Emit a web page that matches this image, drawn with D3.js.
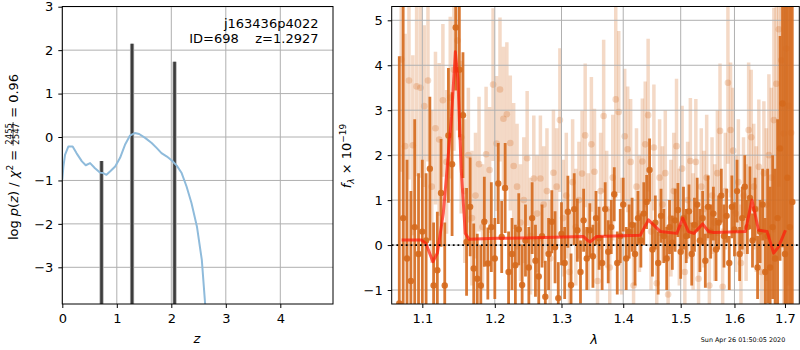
<!DOCTYPE html>
<html><head><meta charset="utf-8">
<script src="https://cdn.jsdelivr.net/npm/d3@7"></script>
<style>body{margin:0;background:#fff} svg{display:block} text{font-family:"DejaVu Sans",sans-serif;fill:#000}</style>
</head><body><svg id="c" width="800" height="350"></svg>
<script>
// ---------------- DATA ----------------
// left panel: p(z)
const pzZ = [0.00,0.02,0.05,0.11,0.19,0.26,0.36,0.43,0.51,0.60,0.69,0.75,0.81,0.88,0.97,1.06,1.15,1.24,1.33,1.41,1.52,1.64,1.73,1.82,1.92,2.01,2.10,2.19,2.28,2.37,2.47,2.56,2.62,2.66];
const pzLogP = [-0.98,-0.68,-0.41,-0.22,-0.22,-0.37,-0.56,-0.65,-0.60,-0.72,-0.82,-0.83,-0.87,-0.79,-0.68,-0.48,-0.18,0.03,0.09,0.07,-0.02,-0.14,-0.25,-0.37,-0.45,-0.54,-0.66,-0.83,-1.14,-1.52,-2.06,-2.83,-3.83,-4.40];
const peakZ = [0.72, 1.28, 2.06];
const peakTop = [-0.55, 2.15, 1.73];
const zTicks = [0,1,2,3,4];
const pTicks = [-3,-2,-1,0,1,2,3];
const objName = "j163436p4022";
const objInfo = "ID=698\u00a0\u00a0\u00a0\u00a0z=1.2927";

// right panel: spectrum (wavelength in micron, flux x 1e-19)
const darkWave = [1.070,1.075,1.080,1.085,1.090,1.095,1.100,1.105,1.110,1.115,
 1.120,1.125,1.130,1.135,1.140,1.145,1.150,1.155,1.160,1.165,
 1.170,1.175,1.180,1.185,1.190,1.195,1.200,1.205,1.210,1.215,
 1.220,1.225,1.230,1.235,1.240,1.245,1.250,1.255,1.260,1.265,
 1.270,1.275,1.280,1.285,1.290,1.295,1.300,1.305,1.310,1.315,
 1.320,1.325,1.330,1.335,1.340,1.345,1.350,1.355,1.360,1.365,
 1.370,1.375,1.380,1.385,1.390,1.395,1.400,1.405,1.410,1.415,
 1.420,1.425,1.430,1.435,1.440,1.445,1.450,1.455,1.460,1.465,
 1.470,1.475,1.480,1.485,1.490,1.495,1.500,1.505,1.510,1.515,
 1.520,1.525,1.530,1.535,1.540,1.545,1.550,1.555,1.560,1.565,
 1.570,1.575,1.580,1.585,1.590,1.595,1.600,1.605,1.610,1.615,
 1.620,1.625,1.630,1.635,1.640,1.645,1.650,1.655,1.660,1.665,
 1.670,1.675,1.680,1.685,1.690,1.695,1.700,1.705,1.710,1.715];
const darkFlux = [-1.30,0.60,-0.30,-0.80,0.40,-0.20,0.30,0.10,1.70,-0.90,
 -0.56,1.16,-0.90,2.44,1.80,4.84,3.90,2.89,0.07,0.85,
 -0.52,-0.75,-0.90,0.52,-0.41,0.40,-0.30,1.37,0.18,1.27,
 -0.60,-0.20,-0.45,0.35,-0.89,0.10,-0.50,0.60,-0.35,-0.70,
 0.20,-1.15,-0.20,0.52,-0.05,-1.18,0.25,-0.40,0.74,-0.89,
 0.80,0.33,-0.60,0.55,-0.30,0.33,-0.25,0.60,0.15,-0.40,
 0.80,-0.15,0.40,1.13,-0.40,0.20,0.90,-0.30,0.30,0.45,
 -0.20,0.60,0.10,0.70,0.96,1.67,-0.10,0.50,-0.40,0.65,
 0.20,-0.30,0.40,0.05,0.55,0.78,-0.15,0.60,0.20,0.75,
 -0.20,0.45,0.90,0.10,0.60,-0.35,0.85,0.30,0.70,-0.10,
 0.50,1.10,0.20,0.65,-0.40,0.85,0.35,1.20,-0.20,0.60,
 1.30,0.40,1.05,0.10,0.80,-0.50,0.30,0.90,-0.60,0.20,
 -0.50,0.40,-0.30,0.60,2.15,3.15,-0.20,1.50,0.40,0.96];
const darkErr = [5.5,5.0,2.2,2.0,2.4,1.8,1.6,1.5,1.6,1.4,
 1.3,1.2,1.4,1.5,1.6,1.4,1.5,1.4,1.2,1.1,
 1.0,1.0,0.9,1.0,0.8,1.0,0.9,0.9,0.8,1.0,
 0.9,0.8,0.9,0.8,0.9,0.8,0.9,0.8,0.8,0.9,
 0.7,0.8,0.8,0.7,0.8,0.8,0.7,0.8,0.8,0.7,
 0.8,0.7,0.7,0.7,0.7,0.6,0.7,0.6,0.7,0.6,
 0.6,0.7,0.6,0.6,0.7,0.6,0.6,0.7,0.6,0.6,
 0.7,0.6,0.6,0.7,0.6,0.7,0.6,0.6,0.7,0.6,
 0.6,0.7,0.6,0.6,0.7,0.6,0.6,0.7,0.6,0.6,
 0.7,0.6,0.6,0.7,0.6,0.6,0.7,0.6,0.6,0.7,
 0.6,0.6,0.7,0.6,0.6,0.7,0.6,0.7,0.6,0.7,
 0.7,0.6,0.7,0.6,0.7,0.7,0.7,0.8,1.2,1.5,
 1.8,1.6,2.0,2.2,2.5,3.2,6.0,6.0,6.5,6.5];
const lightWave = [1.0725,1.0775,1.0825,1.0875,1.0925,1.0975,1.1025,1.1075,1.1125,1.1175,
 1.1225,1.1275,1.1325,1.1375,1.1425,1.1475,1.1525,1.1575,1.1625,1.1675,
 1.1725,1.1775,1.1825,1.1875,1.1925,1.1975,1.2025,1.2075,1.2125,1.2175,
 1.2225,1.2275,1.2325,1.2375,1.2425,1.2475,1.2525,1.2575,1.2625,1.2675,
 1.2725,1.2775,1.2825,1.2875,1.2925,1.2975,1.3025,1.3075,1.3125,1.3175,
 1.3225,1.3275,1.3325,1.3375,1.3425,1.3475,1.3525,1.3575,1.3625,1.3675,
 1.3725,1.3775,1.3825,1.3875,1.3925,1.3975,1.4025,1.4075,1.4125,1.4175,
 1.4225,1.4275,1.4325,1.4375,1.4425,1.4475,1.4525,1.4575,1.4625,1.4675,
 1.4725,1.4775,1.4825,1.4875,1.4925,1.4975,1.5025,1.5075,1.5125,1.5175,
 1.5225,1.5275,1.5325,1.5375,1.5425,1.5475,1.5525,1.5575,1.5625,1.5675,
 1.5725,1.5775,1.5825,1.5875,1.5925,1.5975,1.6025,1.6075,1.6125,1.6175,
 1.6225,1.6275,1.6325,1.6375,1.6425,1.6475,1.6525,1.6575,1.6625,1.6675,
 1.6725,1.6775,1.6825,1.6875,1.6925,1.6975,1.7025,1.7075,1.7125];
const lightFlux = [4.13,2.20,3.66,2.22,3.53,3.50,3.09,3.66,1.30,2.60,
 2.35,3.22,1.85,3.28,3.90,4.55,2.40,1.20,2.00,0.60,
 1.10,1.80,0.40,2.02,1.67,3.57,2.26,3.46,2.81,2.91,
 2.27,1.76,1.30,0.50,1.00,1.93,0.20,1.48,0.70,1.48,
 0.90,1.20,-0.30,1.61,1.30,2.78,0.60,1.10,-0.60,1.40,
 0.40,1.00,1.59,2.44,0.30,2.24,1.63,-0.80,1.20,2.87,
 0.80,-0.50,1.50,3.24,2.96,0.20,2.42,2.13,1.85,-0.90,
 1.30,0.70,1.86,2.24,2.89,0.30,2.17,-0.85,1.50,0.90,
 1.60,-1.10,0.60,1.20,2.20,0.40,1.70,-0.60,1.00,1.87,
 0.30,1.85,-0.75,1.30,0.80,1.50,-0.90,1.10,0.50,1.60,
 2.54,-0.93,1.20,3.61,2.56,2.10,0.70,1.40,-0.40,1.10,
 0.50,2.56,2.40,1.30,0.80,1.74,-0.60,1.60,0.90,2.00,
 1.50,2.78,3.59,4.80,4.11,2.48,4.37,3.10,2.50];
const lightErr = [2.5,2.5,2.2,2.0,2.0,2.0,1.8,1.8,1.7,1.7,
 1.7,1.7,1.6,1.8,1.8,2.0,1.7,1.6,1.5,1.5,
 1.4,1.5,1.4,1.5,1.4,1.7,1.5,1.6,1.6,1.6,
 1.5,1.4,1.4,1.3,1.4,1.5,1.3,1.4,1.3,1.4,
 1.3,1.4,1.3,1.4,1.3,1.6,1.3,1.4,1.3,1.4,
 1.3,1.3,1.4,1.6,1.3,1.5,1.4,1.3,1.3,1.7,
 1.3,1.3,1.4,2.2,1.8,1.3,1.5,1.4,1.4,1.3,
 1.3,1.3,1.4,1.4,1.7,1.3,1.4,1.3,1.3,1.3,
 1.4,1.3,1.3,1.3,1.5,1.3,1.4,1.3,1.3,1.4,
 1.3,1.4,1.3,1.3,1.3,1.4,1.3,1.3,1.3,1.4,
 1.5,1.3,1.3,1.8,1.5,1.4,1.3,1.4,1.3,1.3,
 1.3,1.5,1.5,1.4,1.4,1.5,1.5,1.6,1.7,1.8,
 2.0,2.5,3.0,3.5,3.5,4.0,4.0,4.0,4.0];
const modelWave = [1.073,1.099,1.105,1.114,1.120,1.128,1.1327,1.1392,1.1445,1.148,1.1525,1.1582,1.1635,1.203,1.260,1.303,1.335,1.340,1.3455,1.356,1.429,1.443,1.464,1.493,1.5036,1.514,1.524,1.540,1.551,1.561,1.621,1.634,1.647,1.664,1.677,1.687,1.701];
const modelFlux = [0.11,0.11,0.03,-0.37,-0.18,0.70,1.60,2.85,4.30,3.70,1.70,0.26,0.13,0.15,0.16,0.18,0.19,0.12,0.07,0.19,0.22,0.56,0.30,0.26,0.60,0.30,0.26,0.47,0.30,0.28,0.30,1.00,0.33,0.30,-0.18,-0.04,0.33];
const lamTicks = [1.1,1.2,1.3,1.4,1.5,1.6,1.7];
const fTicks = [-1,0,1,2,3,4,5];
const stamp = "Sun Apr 26 01:50:05 2020";

// ---------------- DRAW ----------------
const svg = d3.select("#c");
const FS = 13;
const GRID = "#b0b0b0";
const NB = "\u00a0";

function frame(g, b) {
  g.append("rect").attr("x", b.x0).attr("y", b.y0).attr("width", b.x1 - b.x0).attr("height", b.y1 - b.y0)
    .attr("fill", "none").attr("stroke", "#000").attr("stroke-width", 1);
}
function styleAxis(sel) {
  sel.select(".domain").remove();
  sel.selectAll(".tick line").attr("stroke", "#000").attr("stroke-width", 1);
  sel.selectAll(".tick text").attr("font-size", FS).attr("font-family", "DejaVu Sans").attr("fill", "#000");
}

// ===== LEFT PANEL =====
const LB = {x0: 62.3, x1: 333, y0: 6.5, y1: 304};
const xz = d3.scaleLinear().domain([0, 4.967]).range([LB.x0, LB.x1]);
const yp = d3.scaleLinear().domain([-3.845, 3.005]).range([LB.y1, LB.y0]);
svg.append("clipPath").attr("id", "clipL").append("rect")
  .attr("x", LB.x0).attr("y", LB.y0).attr("width", LB.x1 - LB.x0).attr("height", LB.y1 - LB.y0);
const gL = svg.append("g");
gL.append("g").selectAll("line").data(zTicks).join("line")
  .attr("x1", d => xz(d)).attr("x2", d => xz(d)).attr("y1", LB.y0).attr("y2", LB.y1)
  .attr("stroke", GRID).attr("stroke-width", 1);
gL.append("g").selectAll("line").data(pTicks).join("line")
  .attr("x1", LB.x0).attr("x2", LB.x1).attr("y1", d => yp(d)).attr("y2", d => yp(d))
  .attr("stroke", GRID).attr("stroke-width", 1);
const gLc = gL.append("g").attr("clip-path", "url(#clipL)");
gLc.append("g").selectAll("line").data(peakZ).join("line")
  .attr("x1", d => xz(d)).attr("x2", d => xz(d)).attr("y1", yp(-4)).attr("y2", (d, i) => yp(peakTop[i]))
  .attr("stroke", "#aaaaaa").attr("stroke-width", 4.2);
gLc.append("g").selectAll("line").data(peakZ).join("line")
  .attr("x1", d => xz(d)).attr("x2", d => xz(d)).attr("y1", yp(-4)).attr("y2", (d, i) => yp(peakTop[i]))
  .attr("stroke", "#3c3c3c").attr("stroke-width", 2.6);
gLc.append("path").datum(pzZ.map((z, i) => [z, pzLogP[i]]))
  .attr("d", d3.line().x(d => xz(d[0])).y(d => yp(d[1])))
  .attr("fill", "none").attr("stroke", "#8fbbdb").attr("stroke-width", 2).attr("stroke-linejoin", "round");
frame(gL, LB);
styleAxis(gL.append("g").attr("transform", `translate(0,${LB.y1})`)
  .call(d3.axisBottom(xz).tickValues(zTicks).tickSize(4).tickPadding(6).tickFormat(d3.format("d"))));
styleAxis(gL.append("g").attr("transform", `translate(${LB.x0},0)`)
  .call(d3.axisLeft(yp).tickValues(pTicks).tickSize(4).tickPadding(5).tickFormat(d3.format("d"))));
gL.append("text").attr("x", 318.5).attr("y", 27.5).attr("text-anchor", "end").attr("font-size", FS).text(objName);
gL.append("text").attr("x", 318.5).attr("y", 42.5).attr("text-anchor", "end").attr("font-size", FS).text(objInfo);
gL.append("text").attr("x", 197).attr("y", 343).attr("text-anchor", "middle").attr("font-size", FS)
  .attr("font-style", "italic").text("z");

// y label with stacked fraction
{
  const g = svg.append("g").attr("transform", "translate(17.5,0) rotate(-90)");
  const t1 = g.append("text").attr("font-size", FS).attr("x", 0).attr("y", 0);
  t1.append("tspan").text("log" + NB);
  t1.append("tspan").attr("font-style", "italic").text("p");
  t1.append("tspan").text("(");
  t1.append("tspan").attr("font-style", "italic").text("z");
  t1.append("tspan").text(")" + NB + "/" + NB);
  t1.append("tspan").attr("font-style", "italic").text("χ");
  t1.append("tspan").attr("font-size", 9).attr("dy", -5).text("2");
  t1.append("tspan").attr("dy", 5).text(NB + "=" + NB);
  const w1 = t1.node().getComputedTextLength();
  const num = g.append("text").attr("font-size", 8.5).attr("y", -5.8).text("2455");
  const den = g.append("text").attr("font-size", 8.5).attr("y", 1.8).text("2547");
  const wf = Math.max(num.node().getComputedTextLength(), den.node().getComputedTextLength()) + 2;
  const t3 = g.append("text").attr("font-size", FS).attr("y", 0).text(NB + "=" + NB + "0.96");
  const w3 = t3.node().getComputedTextLength();
  const W = w1 + wf + w3;
  const x0 = -157 - W / 2;
  t1.attr("x", x0);
  num.attr("x", x0 + w1 + wf / 2).attr("text-anchor", "middle");
  den.attr("x", x0 + w1 + wf / 2).attr("text-anchor", "middle");
  g.append("line").attr("x1", x0 + w1).attr("x2", x0 + w1 + wf).attr("y1", -4.4).attr("y2", -4.4)
    .attr("stroke", "#000").attr("stroke-width", 0.7);
  t3.attr("x", x0 + w1 + wf);
}

// ===== RIGHT PANEL =====
const RB = {x0: 391.7, x1: 799.3, y0: 6.5, y1: 304};
const xl = d3.scaleLog().domain([1.0603, 1.7295]).range([RB.x0, RB.x1]);
const yf = d3.scaleLinear().domain([-1.311, 5.307]).range([RB.y1, RB.y0]);
svg.append("clipPath").attr("id", "clipR").append("rect")
  .attr("x", RB.x0).attr("y", RB.y0).attr("width", RB.x1 - RB.x0).attr("height", RB.y1 - RB.y0);
const gR = svg.append("g");
const gRc = gR.append("g").attr("clip-path", "url(#clipR)");
const ORG = "#d5691c";
const light = lightWave.map((w, i) => ({w, f: lightFlux[i], e: lightErr[i]}));
const dark = darkWave.map((w, i) => ({w, f: darkFlux[i], e: darkErr[i]}));
gRc.append("g").selectAll("line").data(light).join("line")
  .attr("x1", d => xl(d.w)).attr("x2", d => xl(d.w)).attr("y1", d => yf(d.f - d.e)).attr("y2", d => yf(d.f + d.e))
  .attr("stroke", ORG).attr("stroke-opacity", 0.25).attr("stroke-width", 3.5);
gRc.append("g").selectAll("circle").data(light).join("circle")
  .attr("cx", d => xl(d.w)).attr("cy", d => yf(d.f)).attr("r", 3.3)
  .attr("fill", ORG).attr("fill-opacity", 0.25);
gRc.append("g").selectAll("line").data(lamTicks).join("line")
  .attr("x1", d => xl(d)).attr("x2", d => xl(d)).attr("y1", RB.y0).attr("y2", RB.y1)
  .attr("stroke", GRID).attr("stroke-width", 1);
gRc.append("g").selectAll("line").data(fTicks).join("line")
  .attr("x1", RB.x0).attr("x2", RB.x1).attr("y1", d => yf(d)).attr("y2", d => yf(d))
  .attr("stroke", GRID).attr("stroke-width", 1);
gRc.append("g").selectAll("line").data(dark).join("line")
  .attr("x1", d => xl(d.w)).attr("x2", d => xl(d.w)).attr("y1", d => yf(d.f - d.e)).attr("y2", d => yf(d.f + d.e))
  .attr("stroke", ORG).attr("stroke-opacity", 0.9).attr("stroke-width", 2.8);
gRc.append("g").selectAll("circle").data(dark).join("circle")
  .attr("cx", d => xl(d.w)).attr("cy", d => yf(d.f)).attr("r", 3.2)
  .attr("fill", ORG).attr("fill-opacity", 0.9);
gRc.append("path").datum(modelWave.map((w, i) => [w, modelFlux[i]]))
  .attr("d", d3.line().x(d => xl(d[0])).y(d => yf(d[1])))
  .attr("fill", "none").attr("stroke", "#ff1a0a").attr("stroke-opacity", 0.7).attr("stroke-width", 3)
  .attr("stroke-linejoin", "round");
gRc.append("line").attr("x1", RB.x0).attr("x2", RB.x1).attr("y1", yf(0)).attr("y2", yf(0))
  .attr("stroke", "#000").attr("stroke-width", 1.8).attr("stroke-dasharray", "1.8,2.9");
frame(gR, RB);
styleAxis(gR.append("g").attr("transform", `translate(0,${RB.y1})`)
  .call(d3.axisBottom(xl).tickValues(lamTicks).tickSize(4).tickPadding(6).tickFormat(d3.format(".1f"))));
styleAxis(gR.append("g").attr("transform", `translate(${RB.x0},0)`)
  .call(d3.axisLeft(yf).tickValues(fTicks).tickSize(4).tickPadding(5).tickFormat(d3.format("d"))));
gR.append("text").attr("x", 594).attr("y", 344).attr("text-anchor", "middle").attr("font-size", FS)
  .attr("font-style", "italic").text("λ");
{
  const t = svg.append("text").attr("transform", "translate(351,156) rotate(-90)")
    .attr("text-anchor", "middle").attr("font-size", FS);
  t.append("tspan").attr("font-style", "italic").text("f");
  t.append("tspan").attr("font-size", 9).attr("font-style", "italic").attr("dy", 3).text("λ");
  t.append("tspan").attr("dy", -3).text(NB + "×" + NB + "10");
  t.append("tspan").attr("font-size", 9).attr("dy", -5).text("−19");
}
svg.append("text").attr("x", 743).attr("y", 341.5).attr("text-anchor", "middle").attr("font-size", 6.4)
  .text(stamp);
</script></body></html>
